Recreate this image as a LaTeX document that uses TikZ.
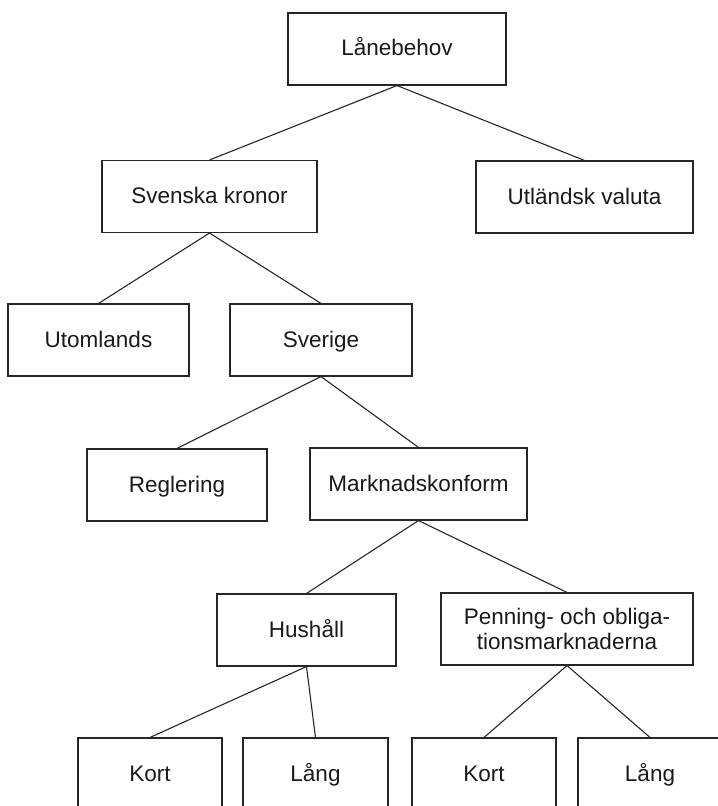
\documentclass[tikz,border=0pt]{standalone}
\usepackage{fontspec}
\setmainfont{Liberation Sans}
\begin{document}
\begin{tikzpicture}[x=1bp,y=-1bp,
  box/.style={draw=black!85, line width=1.1bp, minimum height=72bp, inner sep=0pt,
    align=center, font=\fontsize{22.5bp}{25bp}\selectfont, text=black!90},
  oneline/.style={box, text height=14bp, text depth=0bp},
  link/.style={draw=black!85, line width=1.1bp}]
\useasboundingbox (0,0) rectangle (718,806);
\clip (0,0) rectangle (718,806);
\node[oneline, minimum width=218bp] (root) at (397,49) {Lånebehov};
\node[oneline, minimum width=215bp] (sek) at (209.5,196.5) {Svenska kronor};
\node[oneline, minimum width=217bp] (utl) at (584.5,197) {Utländsk valuta};
\node[oneline, minimum width=181bp] (utom) at (98.5,340) {Utomlands};
\node[oneline, minimum width=182bp] (sve) at (321,340) {Sverige};
\node[oneline, minimum width=180bp] (reg) at (177,485) {Reglering};
\node[oneline, minimum width=217bp] (mark) at (418.5,484) {Marknadskonform};
\node[oneline, minimum width=179bp] (hus) at (306.5,630) {Hushåll};
\node[box, minimum width=252bp] (pen) at (567,629) {Penning- och obliga-\\tionsmarknaderna};
\node[oneline, minimum width=144bp] (kort1) at (150,774) {Kort};
\node[oneline, minimum width=145bp] (lang1) at (315.5,774) {Lång};
\node[oneline, minimum width=144bp] (kort2) at (484,774) {Kort};
\node[oneline, minimum width=144bp] (lang2) at (650,774) {Lång};
\draw[link] (root.south) -- (sek.north);
\draw[link] (root.south) -- (utl.north);
\draw[link] (sek.south) -- (utom.north);
\draw[link] (sek.south) -- (sve.north);
\draw[link] (sve.south) -- (reg.north);
\draw[link] (sve.south) -- (mark.north);
\draw[link] (mark.south) -- (hus.north);
\draw[link] (mark.south) -- (pen.north);
\draw[link] (hus.south) -- (kort1.north);
\draw[link] (hus.south) -- (lang1.north);
\draw[link] (pen.south) -- (kort2.north);
\draw[link] (pen.south) -- (lang2.north);
\end{tikzpicture}
\end{document}
